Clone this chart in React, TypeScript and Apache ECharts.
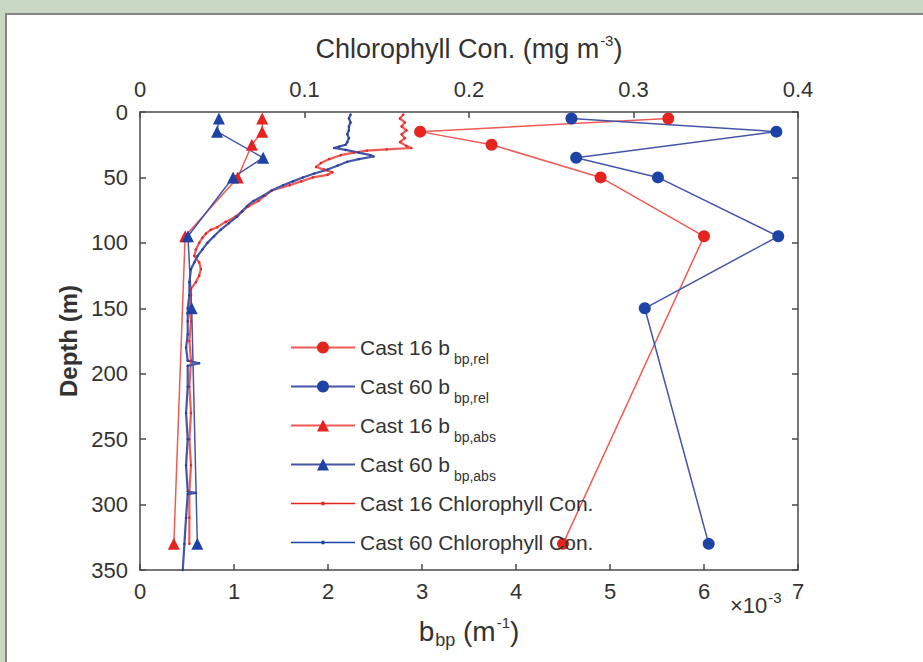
import React, { useEffect, useRef } from 'react';
import * as echarts from 'echarts';

// ---- data (b_bp values in units of 1e-3 m^-1, chlorophyll in mg m^-3, depth in m) ----
const depthRel16 = [5, 15, 25, 50, 95, 330];
const bbpRel16 = [5.62, 2.98, 3.74, 4.9, 6.0, 4.5];

const depthRel60 = [5, 15, 35, 50, 95, 150, 330];
const bbpRel60 = [4.59, 6.77, 4.64, 5.51, 6.79, 5.37, 6.05];

const depthAbs16 = [5, 15, 25, 50, 95, 330];
const bbpAbs16 = [1.3, 1.3, 1.19, 1.04, 0.48, 0.36];

const depthAbs60 = [5, 15, 35, 50, 95, 150, 330];
const bbpAbs60 = [0.84, 0.82, 1.31, 0.99, 0.51, 0.55, 0.61];

const depthChl16 = [2, 5, 8, 11, 14, 17, 20, 23, 26, 27.5, 28.5, 29.5, 31, 33, 36, 39, 42, 44, 46, 48, 50, 53, 56, 60, 64, 68, 72, 76, 80, 84, 88, 90, 93, 96, 100, 105, 110, 115, 120, 125, 130, 135, 140, 150, 160, 175, 190, 210, 230, 250, 270, 290, 310, 330];
const chl16 = [0.160, 0.158, 0.161, 0.159, 0.162, 0.159, 0.161, 0.158, 0.162, 0.165, 0.150, 0.138, 0.130, 0.122, 0.115, 0.110, 0.107, 0.112, 0.117, 0.114, 0.105, 0.098, 0.091, 0.080, 0.076, 0.072, 0.066, 0.062, 0.058, 0.052, 0.047, 0.043, 0.040, 0.038, 0.036, 0.034, 0.033, 0.036, 0.037, 0.036, 0.034, 0.031, 0.031, 0.030, 0.031, 0.030, 0.031, 0.030, 0.031, 0.030, 0.031, 0.030, 0.030, 0.030];

const depthChl60 = [2, 5, 8, 11, 14, 17, 20, 23, 25, 26.5, 27.5, 29, 31, 33, 34, 36, 38, 41, 44, 47, 50, 53, 56, 60, 64, 68, 72, 76, 80, 85, 90, 95, 100, 105, 110, 115, 120, 130, 140, 150, 160, 170, 180, 190, 192, 194, 210, 230, 250, 270, 290, 291, 292, 310, 330, 350];
const chl60 = [0.128, 0.127, 0.128, 0.127, 0.127, 0.126, 0.127, 0.126, 0.125, 0.121, 0.118, 0.125, 0.133, 0.140, 0.142, 0.133, 0.126, 0.120, 0.114, 0.106, 0.099, 0.093, 0.087, 0.080, 0.075, 0.069, 0.065, 0.062, 0.059, 0.054, 0.049, 0.045, 0.041, 0.038, 0.035, 0.033, 0.031, 0.030, 0.030, 0.029, 0.029, 0.029, 0.028, 0.029, 0.036, 0.029, 0.029, 0.028, 0.029, 0.028, 0.029, 0.034, 0.029, 0.028, 0.027, 0.026];

const bbpTicks = [0, 1, 2, 3, 4, 5, 6, 7];
const chlTicks = [0, 0.1, 0.2, 0.3, 0.4];
const depthTicks = [0, 50, 100, 150, 200, 250, 300, 350];

const legendLabels: Record<string, string> = {
  'Cast 16 b_bp,rel': '{m|Cast 16 b}{s|bp,rel}',
  'Cast 60 b_bp,rel': '{m|Cast 60 b}{s|bp,rel}',
  'Cast 16 b_bp,abs': '{m|Cast 16 b}{s|bp,abs}',
  'Cast 60 b_bp,abs': '{m|Cast 60 b}{s|bp,abs}',
  'Cast 16 Chlorophyll Con.': '{m|Cast 16 Chlorophyll Con.}{s| }',
  'Cast 60 Chlorophyll Con.': '{m|Cast 60 Chlorophyll Con.}{s| }',
};

const FONT = '"Liberation Sans", Arial, Helvetica, sans-serif';
const RED = '#e52420';
const RED_LINE = '#ef5a55';
const BLUE = '#1e43a6';
const BLUE_LINE = '#4655a8';
const AXIS = '#4a4a4a';
const TEXT = '#333333';

const pairs = (xs: number[], ys: number[]) => xs.map((x, i) => [x, ys[i]]);

export default function App() {
  const ref = useRef<HTMLDivElement>(null);
  useEffect(() => {
    if (!ref.current) return;
    const chart = echarts.init(ref.current, undefined, { renderer: 'svg' });
    const axisLine = { show: true, onZero: false, lineStyle: { color: AXIS, width: 1.5 } };
    const axisTick = { show: true, inside: true, length: 6, lineStyle: { color: AXIS, width: 1.5 } };
    const axisLabel = { fontSize: 22, color: TEXT, fontFamily: FONT };
    const chlIcon = 'path://M0,7 L64,7 L64,8.6 L0,8.6 Z M30.5,6 L33.5,6 L33.5,9.6 L30.5,9.6 Z';

    chart.setOption({
      animation: false,
      grid: { left: 140, right: 125, top: 112, bottom: 92 },
      xAxis: [
        {
          type: 'value', position: 'bottom', min: bbpTicks[0], max: bbpTicks[bbpTicks.length - 1], interval: 1,
          axisLine, axisTick, splitLine: { show: false },
          axisLabel: { ...axisLabel, margin: 10 },
          name: '{t|b}{sub|bp}{t| (m}{sup|-1}{t|)}',
          nameLocation: 'middle', nameGap: 43,
          nameTextStyle: {
            rich: {
              t: { fontSize: 28, color: TEXT, fontFamily: FONT },
              sub: { fontSize: 18, color: TEXT, fontFamily: FONT, padding: [18, 0, 0, 1] },
              sup: { fontSize: 15, color: TEXT, fontFamily: FONT, padding: [0, 0, 18, 1] },
            },
          },
        },
        {
          type: 'value', position: 'top', min: chlTicks[0], max: chlTicks[chlTicks.length - 1], interval: 0.1,
          axisLine, axisTick, splitLine: { show: false },
          axisLabel: { ...axisLabel, margin: 12 },
          name: '{t|Chlorophyll Con. (mg m}{sup|-3}{t|)}',
          nameLocation: 'middle', nameGap: 47,
          nameTextStyle: {
            rich: {
              t: { fontSize: 27, color: TEXT, fontFamily: FONT },
              sup: { fontSize: 15, color: TEXT, fontFamily: FONT, padding: [0, 0, 17, 1] },
            },
          },
        },
      ],
      yAxis: [
        {
          type: 'value', position: 'left', inverse: true, min: depthTicks[0], max: depthTicks[depthTicks.length - 1], interval: 50,
          axisLine, axisTick, splitLine: { show: false },
          axisLabel: { ...axisLabel, margin: 12 },
          name: 'Depth (m)', nameLocation: 'middle', nameGap: 58,
          nameTextStyle: { fontSize: 24, fontWeight: 'bold', color: TEXT, fontFamily: FONT },
        },
        {
          type: 'value', position: 'right', inverse: true, min: depthTicks[0], max: depthTicks[depthTicks.length - 1], interval: 50,
          axisLine, axisTick, splitLine: { show: false }, axisLabel: { show: false },
        },
      ],
      legend: {
        orient: 'vertical', left: 285, top: 332, padding: 5,
        itemWidth: 64, itemHeight: 15, itemGap: 10,
        data: [
          { name: 'Cast 16 b_bp,rel' },
          { name: 'Cast 60 b_bp,rel' },
          { name: 'Cast 16 b_bp,abs' },
          { name: 'Cast 60 b_bp,abs' },
          { name: 'Cast 16 Chlorophyll Con.', icon: chlIcon },
          { name: 'Cast 60 Chlorophyll Con.', icon: chlIcon },
        ],
        formatter: (name: string) => legendLabels[name] || name,
        textStyle: {
          rich: {
            m: { fontSize: 21, color: TEXT, fontFamily: FONT },
            s: { fontSize: 14, color: TEXT, fontFamily: FONT, padding: [23, 0, 0, 4] },
          },
        },
      },
      graphic: [
        {
          type: 'text', left: 730, top: 590,
          style: {
            text: '{a|×10}{b|-3}',
            rich: {
              a: { fontSize: 22, fill: TEXT, fontFamily: FONT },
              b: { fontSize: 15, fill: TEXT, fontFamily: FONT, padding: [0, 0, 15, 1] },
            },
          },
        },
      ],
      series: [
        {
          name: 'Cast 16 Chlorophyll Con.', type: 'line', xAxisIndex: 1, yAxisIndex: 0,
          data: pairs(chl16, depthChl16), symbol: 'circle', symbolSize: 2.5, showSymbol: true,
          lineStyle: { color: RED_LINE, width: 2.2 }, itemStyle: { color: RED },
        },
        {
          name: 'Cast 60 Chlorophyll Con.', type: 'line', xAxisIndex: 1, yAxisIndex: 0,
          data: pairs(chl60, depthChl60), symbol: 'circle', symbolSize: 2.5, showSymbol: true,
          lineStyle: { color: BLUE_LINE, width: 2.2 }, itemStyle: { color: BLUE },
        },
        {
          name: 'Cast 16 b_bp,rel', type: 'line', xAxisIndex: 0, yAxisIndex: 0,
          data: pairs(bbpRel16, depthRel16), symbol: 'circle', symbolSize: 12,
          lineStyle: { color: RED_LINE, width: 1.5 }, itemStyle: { color: RED },
        },
        {
          name: 'Cast 60 b_bp,rel', type: 'line', xAxisIndex: 0, yAxisIndex: 0,
          data: pairs(bbpRel60, depthRel60), symbol: 'circle', symbolSize: 12,
          lineStyle: { color: BLUE_LINE, width: 1.5 }, itemStyle: { color: BLUE },
        },
        {
          name: 'Cast 16 b_bp,abs', type: 'line', xAxisIndex: 0, yAxisIndex: 0,
          data: pairs(bbpAbs16, depthAbs16), symbol: 'triangle', symbolSize: 12,
          lineStyle: { color: RED_LINE, width: 1.5 }, itemStyle: { color: RED },
        },
        {
          name: 'Cast 60 b_bp,abs', type: 'line', xAxisIndex: 0, yAxisIndex: 0,
          data: pairs(bbpAbs60, depthAbs60), symbol: 'triangle', symbolSize: 12,
          lineStyle: { color: BLUE_LINE, width: 1.5 }, itemStyle: { color: BLUE },
        },
      ],
    });
    return () => chart.dispose();
  }, []);

  return (
    <div style={{ position: 'fixed', left: 0, top: 0, width: 923, height: 662, overflow: 'hidden', background: '#c9d8c3' }}>
      <div style={{ position: 'absolute', left: 5, top: 13, width: 1000, height: 800, background: '#ffffff', border: '2px solid #858585', boxSizing: 'border-box' }} />
      <div ref={ref} style={{ position: 'absolute', left: 0, top: 0, width: 923, height: 662 }} />
    </div>
  );
}
